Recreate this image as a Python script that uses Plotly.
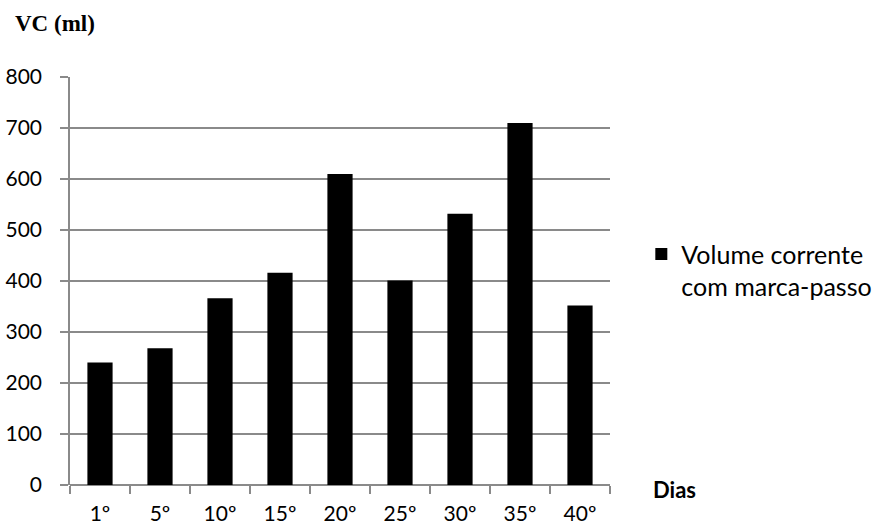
import plotly.graph_objects as go

# Dias de medição e volume corrente (ml)
dias = ["1º", "5º", "10º", "15º", "20º", "25º", "30º", "35º", "40º"]
volume_corrente = [240, 268, 366, 416, 610, 401, 532, 710, 352]
serie_nome = "Volume corrente<br>com marca-passo"
y_ticks = [0, 100, 200, 300, 400, 500, 600, 700, 800]

FONT = "Lato"
GRID = "#8a8a8a"

fig = go.Figure()
fig.add_trace(go.Bar(
    x=dias,
    y=volume_corrente,
    name=serie_nome,
    marker=dict(color="black", line=dict(width=0)),
    showlegend=True,
))

fig.update_layout(
    width=888,
    height=529,
    margin=dict(l=70, r=278, t=77, b=44, autoexpand=False),
    paper_bgcolor="white",
    plot_bgcolor="white",
    bargap=0.58,
    font=dict(family=FONT, size=21, color="black"),
    showlegend=True,
    legend=dict(
        x=1.058, y=0.622, xanchor="left", yanchor="top",
        font=dict(family=FONT, size=25, color="black"),
        valign="top",
        itemwidth=30,
        bgcolor="rgba(0,0,0,0)",
    ),
    xaxis=dict(
        type="category",
        automargin=False,
        showgrid=False,
        showline=False,
        ticks="outside",
        tickson="boundaries",
        ticklen=8,
        tickwidth=1.5,
        tickcolor=GRID,
        tickfont=dict(family=FONT, size=21),
        ticklabelstandoff=14,
    ),
    yaxis=dict(
        range=[0, 800],
        automargin=False,
        tickvals=y_ticks,
        showgrid=True,
        gridcolor=GRID,
        gridwidth=1.5,
        showline=True,
        linecolor=GRID,
        linewidth=1.5,
        ticks="outside",
        ticklen=8,
        tickwidth=1.5,
        tickcolor=GRID,
        tickfont=dict(family=FONT, size=21),
        zeroline=True,
        zerolinecolor=GRID,
        zerolinewidth=1.5,
        ticklabelstandoff=14,
    ),
    annotations=[
        dict(text="<b>VC (ml)</b>", xref="paper", yref="paper",
             x=-0.105, y=1.13, xanchor="left", yanchor="middle", showarrow=False,
             font=dict(family="Liberation Serif", size=23, color="black")),
        dict(text="<b>Dias</b>", xref="paper", yref="paper",
             x=1.075, y=-0.012, xanchor="left", yanchor="middle", showarrow=False,
             font=dict(family=FONT, size=22, color="black")),
    ],
)

fig.write_html("out.html")
